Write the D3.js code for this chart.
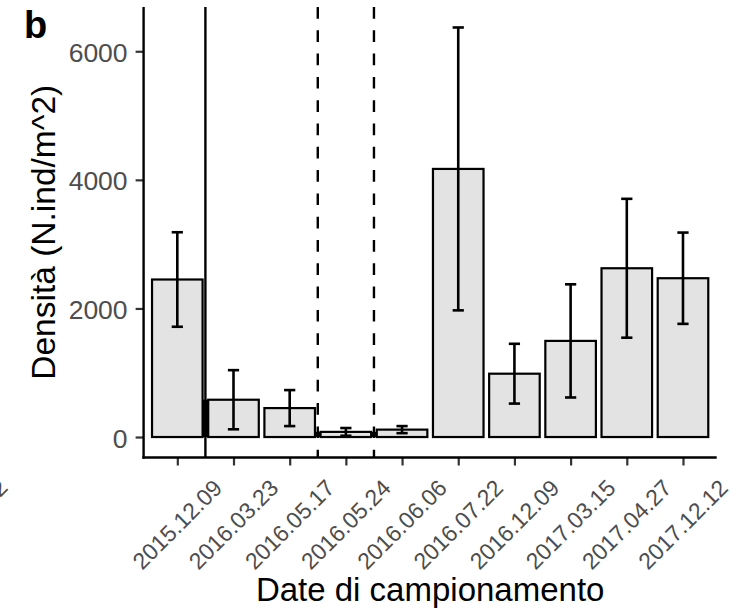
<!DOCTYPE html>
<html>
<head>
<meta charset="utf-8">
<script src="https://cdn.jsdelivr.net/npm/d3@7"></script>
<style>
  html, body { margin: 0; padding: 0; background: #ffffff; }
  svg { display: block; }
</style>
</head>
<body>
<div id="chart"></div>
<script>
// ---- data ----
const categories = ["2015.12.09","2016.03.23","2016.05.17","2016.05.24","2016.06.06",
                    "2016.07.22","2016.12.09","2017.03.15","2017.04.27","2017.12.12"];
const densityMean = [2450, 580, 450, 80, 115, 4170, 985, 1495, 2625, 2470];
const densityErr  = [735, 460, 280, 60, 55, 2200, 465, 880, 1080, 710];
const yTicks = [0, 2000, 4000, 6000];
// vertical reference lines placed after these categories
const vlineAfter = ["2015.12.09", "2016.05.17", "2016.05.24"];
const vlineType  = ["solid", "dashed", "dashed"];
const panelLetter = "b";
const xTitle = "Date di campionamento";
const yTitle = "Densità (N.ind/m^2)";

(function () {
// ---- layout ----
const W = 743, H = 614;
const pLeft = 143.6, pRight = 716.7, pTop = 7, pBottom = 457.5;

const svg = d3.select("#chart").append("svg")
  .attr("width", W).attr("height", H)
  .style("font-family", "'Liberation Sans', Arial, sans-serif");

const x = d3.scalePoint().domain(categories).range([pLeft, pRight]).padding(0.6);
const step = x.step();
const maxTop = d3.max(densityMean.map((m, i) => m + densityErr[i]));
const y = d3.scaleLinear().domain([-0.05 * maxTop, maxTop * 1.05]).range([pBottom, pTop]);

const data = categories.map((c, i) => ({ c, m: densityMean[i], e: densityErr[i] }));
const barW = step * 0.9;

// bars
svg.append("g").selectAll("rect").data(data).join("rect")
  .attr("x", d => x(d.c) - barW / 2)
  .attr("y", d => y(d.m))
  .attr("width", barW)
  .attr("height", d => y(0) - y(d.m))
  .attr("fill", "#e3e3e3")
  .attr("stroke", "#000")
  .attr("stroke-width", 2.2);

// dark fill between bars at the reference lines
svg.append("g").selectAll("rect").data(vlineAfter).join("rect")
  .attr("x", c => x(c) + barW / 2)
  .attr("width", step - barW)
  .attr("y", c => {
    const i = categories.indexOf(c);
    return y(Math.min(densityMean[i], densityMean[i + 1]));
  })
  .attr("height", c => {
    const i = categories.indexOf(c);
    return y(0) - y(Math.min(densityMean[i], densityMean[i + 1]));
  })
  .attr("fill", "#000");

// error bars
const eb = svg.append("g").attr("stroke", "#000").attr("stroke-width", 2.6);
const capW = step * 0.2;
data.forEach(d => {
  const cx = x(d.c);
  eb.append("line").attr("x1", cx).attr("x2", cx).attr("y1", y(d.m - d.e)).attr("y2", y(d.m + d.e));
  eb.append("line").attr("x1", cx - capW / 2).attr("x2", cx + capW / 2).attr("y1", y(d.m - d.e)).attr("y2", y(d.m - d.e));
  eb.append("line").attr("x1", cx - capW / 2).attr("x2", cx + capW / 2).attr("y1", y(d.m + d.e)).attr("y2", y(d.m + d.e));
});

// vertical lines
svg.append("g").selectAll("line").data(vlineAfter).join("line")
  .attr("x1", c => x(c) + step / 2)
  .attr("x2", c => x(c) + step / 2)
  .attr("y1", pTop).attr("y2", pBottom)
  .attr("stroke", "#000").attr("stroke-width", 2.4)
  .attr("stroke-dasharray", (c, i) => vlineType[i] === "dashed" ? "11.7,11.6" : null);

// y axis
const yAxis = svg.append("g").attr("transform", `translate(${pLeft},0)`)
  .call(d3.axisLeft(y).tickValues(yTicks).tickSize(8).tickPadding(8).tickFormat(d3.format("d")));
yAxis.select(".domain").remove();
yAxis.selectAll(".tick line").attr("stroke", "#333333").attr("stroke-width", 2.2);
yAxis.selectAll(".tick text").attr("fill", "#4d4d4d").attr("font-size", 26.5)
  .attr("dy", "0.38em");
svg.append("line").attr("x1", pLeft).attr("x2", pLeft).attr("y1", pTop).attr("y2", pBottom + 1.2)
  .attr("stroke", "#000").attr("stroke-width", 2.4);

// x axis
const xAxis = svg.append("g").attr("transform", `translate(0,${pBottom})`)
  .call(d3.axisBottom(x).tickSize(8).tickFormat(() => ""));
xAxis.select(".domain").remove();
xAxis.selectAll(".tick line").attr("stroke", "#333333").attr("stroke-width", 2.2);
svg.append("line").attr("x1", pLeft - 1.2).attr("x2", pRight).attr("y1", pBottom).attr("y2", pBottom)
  .attr("stroke", "#000").attr("stroke-width", 2.4);

svg.append("g").selectAll("text").data(categories).join("text")
  .attr("transform", c => `translate(${x(c)},${pBottom + 67}) rotate(-45)`)
  .attr("text-anchor", "middle")
  .attr("dominant-baseline", "central")
  .attr("fill", "#4d4d4d")
  .attr("font-size", 23)
  .text(c => c);

// clipped label fragment at far left (partially outside the picture, as in the source)
svg.append("text")
  .attr("transform", `translate(9,489) rotate(-45)`)
  .attr("text-anchor", "end")
  .attr("fill", "#4d4d4d")
  .attr("font-size", 23)
  .text(categories[categories.length - 1]);

// titles
svg.append("text")
  .attr("x", (pLeft + pRight) / 2).attr("y", 601)
  .attr("text-anchor", "middle").attr("font-size", 33).attr("fill", "#000")
  .text(xTitle);

svg.append("text")
  .attr("transform", `translate(55,${(pTop + pBottom) / 2}) rotate(-90)`)
  .attr("text-anchor", "middle").attr("font-size", 33.5).attr("fill", "#000")
  .text(yTitle);

svg.append("text")
  .attr("x", 24).attr("y", 38)
  .attr("font-size", 38).attr("font-weight", "bold").attr("fill", "#000")
  .text(panelLetter);
})();
</script>
</body>
</html>
